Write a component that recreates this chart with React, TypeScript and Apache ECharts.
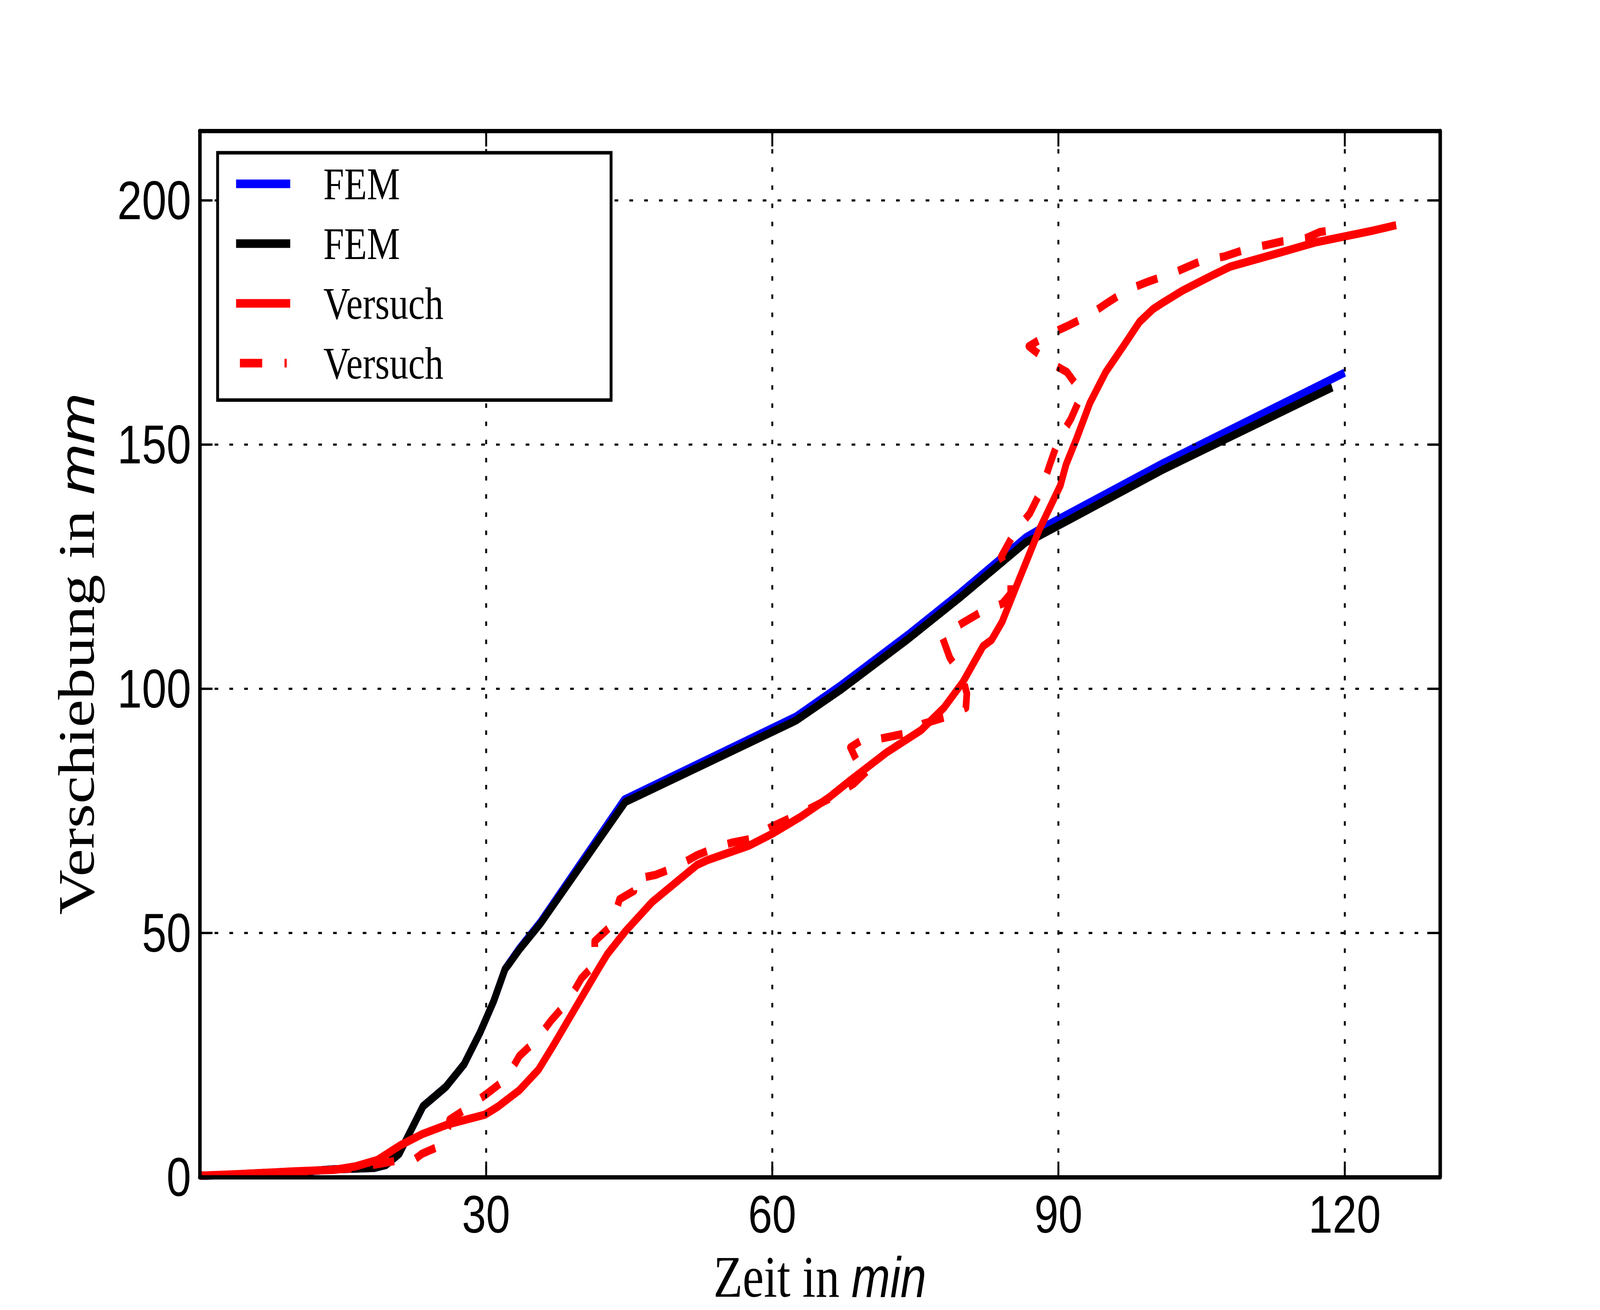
import React, { useEffect, useRef } from "react";
import * as echarts from "echarts";

// ---------- data ----------
const legendLabels = ["FEM", "FEM", "Versuch", "Versuch"];
const seriesKeys = ["fem_blau", "fem_schwarz", "versuch", "versuch_gestrichelt"];
const seriesColors = ["#0000ff", "#000000", "#ff0000", "#ff0000"];
const xTickLabels = [30, 60, 90, 120];
const yTickLabels = [0, 50, 100, 150, 200];

const femBlueX = [0, 5, 10, 14, 18.3, 19.5, 20.9, 23.4, 25.8, 27.7, 29.4, 30.8, 32.0, 33.5, 35.7, 44.5, 62.5, 67.2, 74.2, 79.7, 86.6, 88.0, 101, 120];
const femBlueY = [0.3, 0.5, 1.0, 1.6, 1.9, 2.5, 4.8, 14.5, 18.5, 23.1, 29.7, 36.0, 42.6, 46.8, 52.2, 77.3, 94.3, 100.7, 111.0, 119.6, 131.0, 132.6, 146.2, 164.7];

const femBlackX = [0, 5, 10, 14, 18.3, 19.5, 20.9, 23.4, 25.8, 27.7, 29.4, 30.8, 32.0, 32.4, 33.5, 35.7, 44.6, 62.5, 67.2, 74.2, 79.7, 86.6, 88.0, 101, 118.7];
const femBlackY = [0.3, 0.5, 1.0, 1.6, 1.9, 2.5, 4.8, 14.5, 18.5, 23.1, 29.7, 36.0, 42.6, 43.6, 46.6, 51.9, 76.8, 93.5, 99.8, 110.1, 118.7, 130.0, 131.3, 144.9, 161.7];

const versuchX = [0, 5, 10, 14.1, 16.3, 18.6, 21.0, 23.3, 26.0, 29.9, 31.3, 33.5, 35.5, 37.1, 39.6, 41.8, 42.7, 44.6, 47.4, 48.2, 52.1, 53.2, 57.6, 60, 63, 66, 68.1, 71.95, 75.6, 78, 80, 82.1, 83, 84.1, 85.8, 86.9, 88, 90.2, 90.8, 91.9, 93.3, 94.95, 96.9, 98.5, 99.9, 101, 103, 106, 108, 112, 117, 123, 125.4];
const versuchY = [0.3, 0.7, 1.2, 1.5, 2.2, 3.5, 6.5, 8.8, 10.8, 12.8, 14.5, 17.8, 22.0, 27.1, 35.4, 42.7, 45.6, 50.3, 56.3, 57.6, 63.9, 64.9, 67.9, 70.3, 73.8, 77.8, 81.1, 86.9, 91.5, 96.1, 101.4, 108.7, 110.0, 113.7, 122.0, 127.3, 132.6, 141.6, 145.9, 151.2, 158.5, 164.8, 170.4, 175.1, 177.7, 179.1, 181.5, 184.5, 186.4, 188.6, 191.4, 193.8, 194.9];

const versuchDashX = [0, 4, 8, 12, 16, 19, 21, 22.5, 23.3, 25.3, 26.0, 26.2, 28.0, 30.1, 32.1, 33.5, 35.3, 36.8, 38.6, 40.0, 41.4, 41.4, 43.2, 44.0, 45.5, 45.4, 47.8, 50.0, 52.1, 54.1, 55.8, 57.6, 60, 63, 66, 68.5, 70.3, 68.8, 68.2, 69.5, 71.4, 73.9, 75.8, 78.0, 80.3, 80.4, 80.0, 78.6, 77.8, 79.9, 81.9, 84.1, 85.0, 85.0, 84.0, 85.4, 87.0, 88.2, 89.1, 90.0, 91.3, 92.5, 90.9, 88.85, 86.9, 88.85, 91.1, 93.15, 95.2, 97.3, 99.5, 102.5, 105, 107.4, 109.4, 111.7, 113.5, 115.9, 117.4, 119.8];
const versuchDashY = [0.3, 0.6, 1.0, 1.3, 1.8, 2.8, 3.5, 3.6, 4.8, 6.5, 10.0, 11.8, 14.1, 17.1, 20.1, 24.8, 28.1, 32.0, 36.0, 40.7, 43.6, 48.3, 51.6, 56.9, 58.6, 60.9, 61.9, 63.6, 65.9, 67.5, 68.5, 69.2, 71.8, 74.5, 77.5, 80.5, 83.8, 85.5, 88.0, 89.6, 89.8, 90.8, 92.8, 94.1, 96.1, 99.0, 102.0, 106.4, 110.7, 113.4, 115.7, 117.4, 119.5, 122.7, 127.0, 132.0, 135.9, 140.6, 145.9, 150.9, 155.2, 160.5, 164.8, 167.1, 170.1, 172.4, 174.4, 176.4, 179.1, 181.7, 183.4, 185.5, 187.6, 188.5, 189.8, 190.8, 191.6, 192.2, 193.5, 194.2];

const seriesXs = [femBlueX, femBlackX, versuchX, versuchDashX];
const seriesYs = [femBlueY, femBlackY, versuchY, versuchDashY];

// ---------- styling ----------
const W = 5022;
const H = 3353;
const SANS = "'Liberation Sans', Arial, sans-serif";
const SERIF = "'Liberation Serif', 'Times New Roman', serif";

const X_MIN = 0, X_MAX = 130, X_INT = 30;
const Y_MIN = 0, Y_MAX = 214.2, Y_INT = 50;

const AXIS_LW = 11;
const gridDash = [11.5, 35];

const dashedIcon = "path://M0,0L0,0ZM12,0H82V22H12ZM152,0H159V22H152ZM170,22L170,22Z";

function pairs(xs: number[], ys: number[]) {
  return xs.map((x, i) => [x, ys[i]]);
}

function buildOption() {
  const axisCommon = {
    axisLine: { show: true, onZero: false, lineStyle: { color: "#000", width: AXIS_LW } },
    axisTick: { show: true, inside: true, length: 40, lineStyle: { color: "#000", width: 6 } },
  };

  const xNameStyle = {
    fontFamily: SERIF,
    fontSize: 150,
    color: "#000",
    rich: {
      i: { fontFamily: SANS, fontStyle: "italic", fontSize: 146, color: "#000" },
    },
  };
  const yNameStyle = {
    fontFamily: SERIF,
    fontSize: 160,
    color: "#000",
    rich: {
      i: { fontFamily: SANS, fontStyle: "italic", fontSize: 156, color: "#000" },
    },
  };

  const series = seriesKeys.map((key, i) => ({
    name: key,
    type: "line",
    data: pairs(seriesXs[i], seriesYs[i]),
    showSymbol: false,
    symbol: "none",
    smooth: false,
    z: 2,
    itemStyle: { color: seriesColors[i] },
    lineStyle: {
      color: seriesColors[i],
      width: 21,
      cap: "butt",
      join: "round",
      type: i === 3 ? [68, 68] : "solid",
    },
    emphasis: { disabled: true },
  }));

  return {
    animation: false,
    backgroundColor: "#ffffff",
    grid: {
      left: 627,
      top: 335,
      width: 3893,
      height: 2678,
      containLabel: false,
      outerBoundsMode: "none",
    },
    legend: {
      show: true,
      orient: "vertical",
      left: 683,
      top: 391,
      padding: [21, 40, 36, 58],
      itemGap: 36,
      itemWidth: 170,
      itemHeight: 22,
      symbolKeepAspect: false,
      selectedMode: false,
      backgroundColor: "#ffffff",
      borderColor: "#000000",
      borderWidth: 9,
      borderRadius: 0,
      z: 10,
      itemStyle: { borderWidth: 0 },
      lineStyle: { width: 0 },
      formatter: (name: string) => legendLabels[seriesKeys.indexOf(name)],
      textStyle: {
        fontFamily: SERIF,
        fontSize: 117,
        color: "#000",
        lineHeight: 114,
        width: 863,
        padding: [0, 0, 0, 99],
      },
      data: seriesKeys.map((key, i) => ({
        name: key,
        icon: i === 3 ? dashedIcon : "rect",
        itemStyle: { color: seriesColors[i], borderWidth: 0 },
      })),
    },
    xAxis: [
      {
        type: "value",
        position: "bottom",
        min: X_MIN,
        max: X_MAX,
        interval: X_INT,
        z: 3,
        ...axisCommon,
        axisLabel: {
          show: true,
          margin: 27,
          color: "#000",
          fontFamily: SANS,
          fontSize: 136,
          formatter: (v: number) => (xTickLabels.indexOf(v) >= 0 ? String(v) : ""),
        },
        splitLine: { show: true, lineStyle: { color: "#000", width: 6, type: gridDash } },
        name: "Zeit in {i|min}",
        nameLocation: "middle",
        nameGap: 181,
        nameMoveOverlap: false,
        nameTextStyle: xNameStyle,
      },
      {
        type: "value",
        position: "top",
        min: X_MIN,
        max: X_MAX,
        interval: X_INT,
        z: 3,
        ...axisCommon,
        axisLabel: { show: false },
        splitLine: { show: false },
      },
    ],
    yAxis: [
      {
        type: "value",
        position: "left",
        min: Y_MIN,
        max: Y_MAX,
        interval: Y_INT,
        z: 3,
        ...axisCommon,
        axisLabel: {
          show: true,
          margin: 27,
          color: "#000",
          fontFamily: SANS,
          fontSize: 139,
          padding: [0, 0, 22, 0],
          formatter: (v: number) => (yTickLabels.indexOf(v) >= 0 ? String(v) : ""),
        },
        splitLine: { show: true, lineStyle: { color: "#000", width: 5.5, type: gridDash } },
        name: "Verschiebung in {i|mm}",
        nameLocation: "middle",
        nameGap: 306,
        nameMoveOverlap: false,
        nameTextStyle: yNameStyle,
      },
      {
        type: "value",
        position: "right",
        min: Y_MIN,
        max: Y_MAX,
        interval: Y_INT,
        z: 3,
        ...axisCommon,
        axisLabel: { show: false },
        splitLine: { show: false },
      },
    ],
    series,
  };
}

export default function App() {
  const ref = useRef<HTMLDivElement>(null);

  useEffect(() => {
    document.body.style.margin = "0";
    document.body.style.overflow = "hidden";
    const el = ref.current;
    if (!el) return;
    // fit the 5022x3353 design into whatever viewport the page really has
    const vw = document.documentElement.clientWidth || window.innerWidth || W;
    const vh = document.documentElement.clientHeight || window.innerHeight || H;
    const sx = vw / W;
    const sy = vh / H;
    if (Math.abs(sx - 1) > 0.001 || Math.abs(sy - 1) > 0.001) {
      el.style.transformOrigin = "0 0";
      el.style.transform = `scale(${sx}, ${sy})`;
    }
    const chart = echarts.init(el, null, { renderer: "svg", width: W, height: H });
    chart.setOption(buildOption() as any);
    return () => {
      chart.dispose();
    };
  }, []);

  return (
    <div
      ref={ref}
      style={{ position: "fixed", left: 0, top: 0, width: W, height: H, background: "#fff" }}
    />
  );
}
